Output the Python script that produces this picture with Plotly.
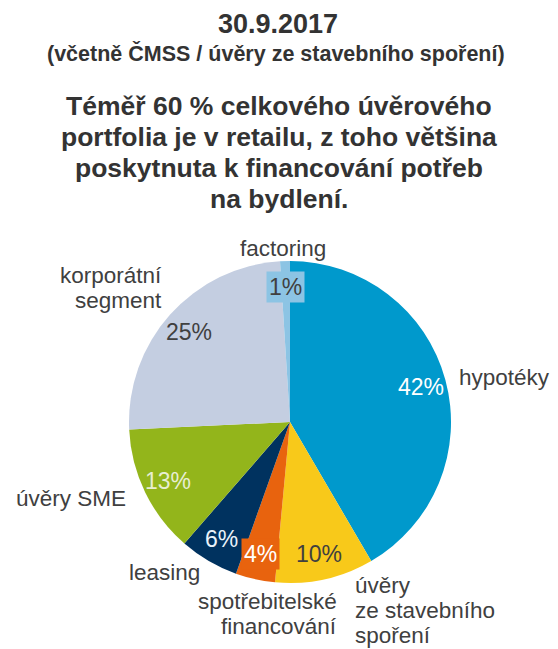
import math
import plotly.graph_objects as go

# ---- data ----
categories = ["hypotéky", "úvěry ze stavebního spoření", "spotřebitelské financování",
              "leasing", "úvěry SME", "korporátní segment", "factoring"]
values = [42, 10, 4, 6, 13, 25, 1]
colors = ["#0099CC", "#F8C91A", "#E8630E", "#00325F", "#93B51B", "#C4CEE1", "#8CC4E4"]
pct_text_colors = ["#FFFFFF", "#404040", "#FFFFFF", "#EAF2FA", "#E8EED2", "#404040", "#404040"]
pct_boxed = [False, False, True, False, False, False, True]
outer_label_lines = [["hypotéky"],
                     ["úvěry", "ze stavebního", "spoření"],
                     ["spotřebitelské", "financování"],
                     ["leasing"],
                     ["úvěry SME"],
                     ["korporátní", "segment"],
                     ["factoring"]]

title_text = "30.9.2017"
subtitle_text = "(včetně ČMSS / úvěry ze stavebního spoření)"
headline_lines = ["Téměř 60 % celkového úvěrového",
                  "portfolia je v retailu, z toho většina",
                  "poskytnuta k financování potřeb",
                  "na bydlení."]

# ---- layout (screen pixels; page body has an 8px margin) ----
OFF = 8
W, H = 558 - OFF, 649 - OFF
CX, CY, R = 290, 422, 161

font_family = "Liberation Sans"
text_col = "#404040"
title_col = "#333333"


def px_to_paper(x, y):
    return (x - OFF) / W, (H - (y - OFF)) / H


x0, y0 = px_to_paper(CX - R, CY + R)
x1, y1 = px_to_paper(CX + R, CY - R)

fig = go.Figure(go.Pie(
    labels=categories,
    values=values,
    sort=False,
    direction="clockwise",
    rotation=0,
    marker=dict(colors=colors, line=dict(width=0)),
    textinfo="none",
    hoverinfo="label+value",
    showlegend=False,
    domain=dict(x=[x0, x1], y=[y0, y1]),
))

annotations = []


def add_text(x, y, text, size, color, xanchor="center", bold=False, **kw):
    px, py = px_to_paper(x, y)
    if bold:
        text = f"<b>{text}</b>"
    d = dict(x=px, y=py, text=text, xanchor=xanchor, yanchor="middle",
             xref="paper", yref="paper", showarrow=False, borderpad=0,
             font=dict(size=size, color=color, family=font_family))
    d.update(kw)
    annotations.append(d)


# title / subtitle / headline
add_text(278, 24, title_text, 27, title_col, bold=True)
add_text(276, 53, subtitle_text, 21.5, title_col, bold=True)
for i, line in enumerate(headline_lines):
    add_text(279, 106 + 31 * i, line, 26.5, title_col, bold=True)

# percentage labels at each slice's mid angle
total = sum(values)
cum = 0
for v, tc, boxed, col in zip(values, pct_text_colors, pct_boxed, colors):
    mid = (cum + v / 2) / total * 2 * math.pi
    cum += v
    r = 0.84 * R
    x = CX + r * math.sin(mid)
    y = CY - r * math.cos(mid)
    extra = dict(bgcolor=col, borderpad=2) if boxed else {}
    add_text(x, y, f"{v}%", 23, tc, **extra)

# outer category labels: (anchor x, first line y, xanchor)
outer_pos = [(458, 377, "left"),
             (354, 585, "left"),
             (338, 601, "right"),
             (128, 572, "left"),
             (15, 498, "left"),
             (163, 275, "right"),
             (283, 248, "center")]
LINE = 25
for lines, (x, y, xa) in zip(outer_label_lines, outer_pos):
    for i, ln in enumerate(lines):
        add_text(x, y + LINE * i, ln, 22.5, text_col, xanchor=xa)

fig.update_layout(
    width=W, height=H,
    margin=dict(l=0, r=0, t=0, b=0),
    paper_bgcolor="white",
    plot_bgcolor="white",
    annotations=annotations,
)

fig.write_html("out.html")
